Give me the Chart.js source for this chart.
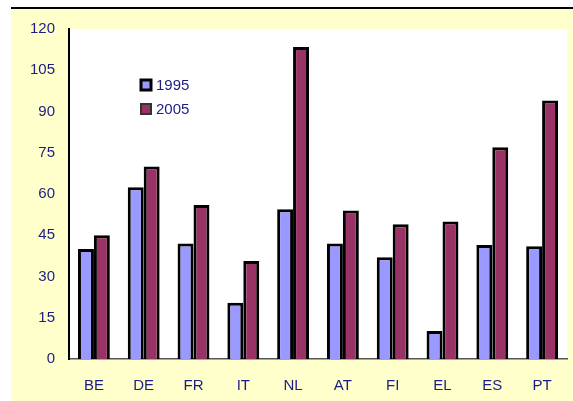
<!DOCTYPE html>
<html>
<head>
<meta charset="utf-8">
<script src="https://cdn.jsdelivr.net/npm/chart.js@4"></script>
<style>
  body { margin: 0; background: #fff; }
  canvas { display: block; }
</style>
</head>
<body>
<canvas id="myChart" width="573" height="401"></canvas>
<script>
const ctx = document.getElementById('myChart');

// data
const countries = ['BE', 'DE', 'FR', 'IT', 'NL', 'AT', 'FI', 'EL', 'ES', 'PT'];
const values1995 = [40, 62.5, 42, 20.5, 54.5, 42, 37, 10.2, 41.5, 41];
const values2005 = [45, 70, 56, 35.6, 113.5, 54, 49, 50, 77, 94];
const yTicks = [0, 15, 30, 45, 60, 75, 90, 105, 120];

const textColor = '#1c1c86';
const fontFamily = '"Liberation Sans", Arial, sans-serif';

// yellow frame + white plot area
const background = {
  id: 'background',
  beforeDraw(chart) {
    const c = chart.ctx;
    const a = chart.chartArea;
    c.save();
    c.fillStyle = '#ffffff';
    c.fillRect(0, 0, chart.width, chart.height);
    c.fillStyle = '#ffffcc';
    c.fillRect(11, 9, chart.width - 11, chart.height - 9);
    c.fillStyle = '#000000';
    c.fillRect(11, 7, chart.width - 11, 2);
    c.fillStyle = '#ffffff';
    c.fillRect(a.left, a.top, a.right - a.left, a.bottom - a.top);
    c.restore();
  }
};

// legend drawn inside the plot, like the original
const innerLegend = {
  id: 'innerLegend',
  afterDraw(chart) {
    const c = chart.ctx;
    c.save();
    c.font = '15px ' + fontFamily;
    c.textBaseline = 'middle';
    chart.data.datasets.forEach((ds, i) => {
      const y = 85 + i * 24;
      c.fillStyle = ds.backgroundColor;
      c.fillRect(141, y - 5, 10, 10);
      c.strokeStyle = i === 0 ? '#000000' : '#333333';
      c.lineWidth = i === 0 ? 3 : 2;
      c.strokeRect(141, y - 5, 10, 10);
      c.fillStyle = textColor;
      c.fillText(ds.label, 156, y + 1);
    });
    c.restore();
  }
};

new Chart(ctx, {
  type: 'bar',
  data: {
    labels: countries,
    datasets: [{
      label: '1995',
      data: values1995,
      backgroundColor: '#9999ff',
      borderColor: '#000000',
      borderWidth: 3,
      borderSkipped: 'bottom'
    }, {
      label: '2005',
      data: values2005,
      backgroundColor: '#993366',
      borderColor: '#000000',
      borderWidth: 3,
      borderSkipped: 'bottom'
    }]
  },
  options: {
    responsive: false,
    animation: false,
    datasets: {
      bar: { categoryPercentage: 0.64, barPercentage: 1 }
    },
    layout: { padding: { top: 29, right: 6, left: 0, bottom: 0 } },
    plugins: {
      legend: { display: false },
      tooltip: { enabled: false }
    },
    scales: {
      x: {
        grid: { display: false, drawTicks: false },
        border: { display: true, color: '#555555', width: 1.5 },
        ticks: {
          color: textColor,
          padding: 18,
          font: { family: fontFamily, size: 15 }
        },
        afterFit(scale) { scale.height = 42; }
      },
      y: {
        min: 0,
        max: 120,
        afterBuildTicks(scale) { scale.ticks = yTicks.map(v => ({ value: v })); },
        grid: { display: false, drawTicks: false },
        border: { display: true, color: '#000000', width: 2 },
        ticks: {
          color: textColor,
          padding: 14,
          font: { family: fontFamily, size: 15 }
        },
        afterFit(scale) { scale.width = 69; }
      }
    }
  },
  plugins: [background, innerLegend]
});
</script>
</body>
</html>
